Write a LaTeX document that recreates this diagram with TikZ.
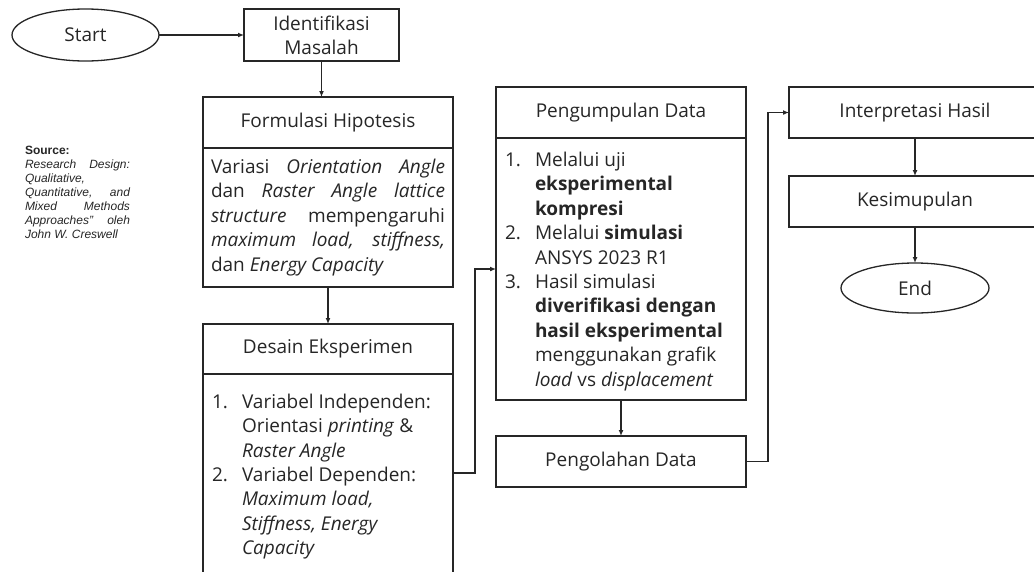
\documentclass[tikz,border=0pt]{standalone}
\usepackage{fontspec}
\setmainfont{Open Sans}
\newfontfamily\srcfamily{Liberation Sans}
\usetikzlibrary{shapes.geometric,arrows.meta,calc}
\hbadness=10000
\begin{document}
\begin{tikzpicture}[x=1pt,y=-1pt,
  box/.style={draw=black!85, line width=1.3pt, rectangle, inner sep=0pt, outer sep=0pt,
    anchor=north west, text=black!85, font=\fontsize{19}{24}\selectfont, align=center},
  oval/.style={draw=black!85, line width=1.3pt, ellipse, inner sep=0pt, outer sep=0pt,
    text=black!85, font=\fontsize{19}{24}\selectfont},
  txt/.style={inner sep=0pt, outer sep=0pt, anchor=north west, text=black!85},
  arr/.style={line width=1.2pt, draw=black!85, -{Latex[length=6pt,width=5pt]}}]
\useasboundingbox (0,0) rectangle (1034,571);
\clip (0,0) rectangle (1034,571);

% Start / Identifikasi
\node[oval, minimum width=147, minimum height=52] (start) at (85.5,35) {Start};
\node[box, minimum width=155, minimum height=52] (idm) at (244,9) {Identifikasi\\Masalah};

% Formulasi Hipotesis
\node[box, minimum width=250, minimum height=51] (fh) at (203,97) {Formulasi Hipotesis};
\node[box, minimum width=250, minimum height=139] (fb) at (203,148)
  {\parbox{234pt}{\fontsize{19}{24.5}\selectfont
  Variasi \textit{Orientation Angle}\linebreak
  dan \textit{Raster Angle lattice}\linebreak
  \textit{structure} mempengaruhi\linebreak
  \textit{maximum load, stiffness,}\linebreak
  dan \textit{Energy Capacity}}};

% Desain Eksperimen
\node[box, minimum width=250, minimum height=50] (dh) at (203,324) {Desain Eksperimen};
\node[box, minimum width=250, minimum height=260] (db) at (203,374) {};
\node[txt] (dt) at (212,391.5) {\fontsize{19}{24.3}\selectfont
  \begin{tabular}{@{}l@{}l@{}}
  \makebox[30pt][l]{1.} & Variabel Independen:\\
   & Orientasi \textit{printing} \&\\
   & \textit{Raster Angle}\\
  \makebox[30pt][l]{2.} & Variabel Dependen:\\
   & \textit{Maximum load,}\\
   & \textit{Stiffness, Energy}\\
   & \textit{Capacity}
  \end{tabular}};

% Pengumpulan Data
\node[box, minimum width=250, minimum height=51] (ph) at (496,87) {Pengumpulan Data};
\node[box, minimum width=250, minimum height=262] (pb) at (496,138) {};
\node[txt] (pt) at (505,149.5) {\fontsize{19}{24.4}\selectfont
  \begin{tabular}{@{}l@{}l@{}}
  \makebox[30pt][l]{1.} & Melalui uji\\
   & \textbf{eksperimental}\\
   & \textbf{kompresi}\\
  \makebox[30pt][l]{2.} & Melalui \textbf{simulasi}\\
   & ANSYS 2023 R1\\
  \makebox[30pt][l]{3.} & Hasil simulasi\\
   & \textbf{diverifikasi dengan}\\
   & \textbf{hasil eksperimental}\\
   & menggunakan grafik\\
   & \textit{load} vs \textit{displacement}
  \end{tabular}};

% Pengolahan Data
\node[box, minimum width=250, minimum height=51] (po) at (496,436) {Pengolahan Data};

% Right column
\node[box, minimum width=252, minimum height=51] (ih) at (789,87) {Interpretasi Hasil};
\node[box, minimum width=252, minimum height=51] (ks) at (789,176) {Kesimupulan};
\node[oval, minimum width=148, minimum height=50] (end) at (915,288) {End};

% Source
\node[txt, font={\srcfamily\fontsize{17}{19.8}\selectfont}, align=left,
  scale=0.706, transform shape] (src) at (25,146)
  {\textbf{Source:}\\
  \makebox[148.7pt][s]{\itshape Research Design:}\\
  \makebox[148.7pt][l]{\itshape Qualitative,}\\
  \makebox[148.7pt][s]{\itshape Quantitative, and}\\
  \makebox[148.7pt][s]{\itshape Mixed Methods}\\
  \makebox[148.7pt][s]{\itshape Approaches” oleh}\\
  \makebox[148.7pt][l]{\itshape John W. Creswell}};

% connectors
\coordinate (c1) at (0,473);
\coordinate (c2) at (0,269);
\draw[arr] (start.east) -- (idm.west |- start.east);
\draw[arr] (idm.south) -- (idm.south |- fh.north);
\draw[arr] (fb.south) -- (dh.north);
\draw[arr] (db.east |- c1) -- ++(22,0) |- (pb.west |- c2);
\draw[arr] (pb.south) -- (po.north);
\draw[arr] (po.east) -- ++(22,0) |- (ih.west);
\draw[arr] (ih.south) -- (ks.north);
\draw[arr] (ks.south) -- (end.north);
\end{tikzpicture}
\end{document}
